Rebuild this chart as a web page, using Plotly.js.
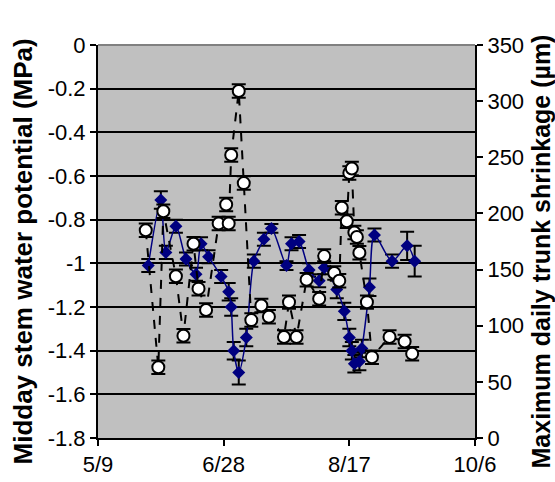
<!DOCTYPE html>
<html>
<head>
<meta charset="utf-8">
<script src="https://cdn.plot.ly/plotly-3.0.1.min.js"></script>
<style>html,body{margin:0;padding:0;background:#fff;}#chart{width:555px;height:482px;}</style>
</head>
<body>
<div id="chart"></div>
<script>
// Midday stem water potential (left axis, MPa) - blue diamonds
var swpDates = ["2005-05-29","2005-06-03","2005-06-05","2005-06-09","2005-06-13","2005-06-17","2005-06-19","2005-06-22","2005-06-27","2005-06-30","2005-07-01","2005-07-02","2005-07-04","2005-07-07","2005-07-10","2005-07-14","2005-07-17","2005-07-23","2005-07-25","2005-07-28","2005-08-01","2005-08-05","2005-08-07","2005-08-12","2005-08-15","2005-08-17","2005-08-18","2005-08-19","2005-08-21","2005-08-22","2005-08-25","2005-08-27","2005-09-03","2005-09-09","2005-09-12"];
var swpValues = [-1.01,-0.71,-0.95,-0.83,-0.98,-1.05,-0.91,-0.97,-1.06,-1.13,-1.20,-1.40,-1.50,-1.34,-0.99,-0.89,-0.84,-1.01,-0.91,-0.90,-1.03,-1.08,-1.02,-1.12,-1.22,-1.34,-1.40,-1.46,-1.45,-1.39,-1.11,-0.87,-0.99,-0.92,-0.99];
var swpErrors = [0.03,0.04,0.03,0.03,0.03,0.03,0.03,0.03,0.03,0.04,0.04,0.04,0.055,0.04,0.03,0.03,0.02,0.02,0.03,0.03,0.03,0.03,0.03,0.04,0.04,0.04,0.04,0.04,0.04,0.04,0.04,0.03,0.03,0.065,0.07];

// Maximum daily trunk shrinkage (right axis, µm) - white circles
var mdsDates = ["2005-05-28","2005-06-02","2005-06-04","2005-06-09","2005-06-12","2005-06-16","2005-06-18","2005-06-21","2005-06-26","2005-06-29","2005-06-30","2005-07-01","2005-07-04","2005-07-06","2005-07-09","2005-07-13","2005-07-16","2005-07-22","2005-07-24","2005-07-27","2005-07-31","2005-08-05","2005-08-07","2005-08-11","2005-08-13","2005-08-14","2005-08-16","2005-08-17","2005-08-18","2005-08-19","2005-08-20","2005-08-21","2005-08-24","2005-08-26","2005-09-02","2005-09-08","2005-09-11"];
var mdsValues = [185,63,202,144,91,173,133,114,191,208,191,252,309,227,105,118,108,90,121,90,141,124,162,147,140,205,193,236,240,183,179,165,121,72,90,86,75];
var mdsErrors = [6,6,6,6,6,6,6,6,6,6,6,6,6,6,6,6,6,6,6,6,6,6,6,6,6,6,6,6,6,6,6,6,6,6,6,6,6];

var xTickVals = ["2005-05-09","2005-06-28","2005-08-17","2005-10-06"];
var xTickText = ["5/9","6/28","8/17","10/6"];
var yTickVals = [0,-0.2,-0.4,-0.6,-0.8,-1,-1.2,-1.4,-1.6,-1.8];
var yTickText = ["0","-0.2","-0.4","-0.6","-0.8","-1","-1.2","-1.4","-1.6","-1.8"];
var y2TickVals = [0,50,100,150,200,250,300,350];
var y2TickText = ["0","50","100","150","200","250","300","350"];
var leftTitle = "Midday stem water potential (MPa)";
var rightTitle = "Maximum daily trunk shrinkage (µm)";

var tickFont = {family: "'Liberation Sans Narrow', 'Liberation Sans', Arial, sans-serif", size: 22, color: "#000"};
var leftTitleFont = {family: "'Liberation Sans', Arial, sans-serif", size: 26, color: "#000", weight: "bold"};
var rightTitleFont = {family: "'Liberation Sans', Arial, sans-serif", size: 25, color: "#000", weight: "bold"};

var traces = [
  {
    x: swpDates, y: swpValues, type: "scatter", mode: "lines+markers",
    name: "Stem water potential",
    line: {color: "#000080", width: 1.5, shape: "spline", smoothing: 0.8},
    marker: {symbol: "diamond", size: 10, color: "#000080"},
    error_y: {type: "data", array: swpErrors, visible: true, color: "#000", thickness: 2, width: 7},
    yaxis: "y", cliponaxis: false
  },
  {
    x: mdsDates, y: mdsValues, type: "scatter", mode: "lines+markers",
    name: "MDS",
    line: {color: "#000", width: 2, dash: "dash"},
    marker: {symbol: "circle", size: 12, color: "#fff", line: {color: "#000", width: 2}},
    error_y: {type: "data", array: mdsErrors, visible: true, color: "#000", thickness: 2, width: 7},
    yaxis: "y2", cliponaxis: false
  }
];

var layout = {
  width: 555, height: 482,
  margin: {l: 98, r: 80, t: 45, b: 44, pad: 0},
  paper_bgcolor: "#fff", plot_bgcolor: "#c0c0c0",
  showlegend: false,
  xaxis: {
    type: "date", range: ["2005-05-09","2005-10-06"],
    tickvals: xTickVals, ticktext: xTickText,
    ticks: "outside", ticklen: 6, tickwidth: 2, tickcolor: "#000",
    showline: true, linecolor: "#000", linewidth: 2,
    showgrid: false, zeroline: false,
    tickfont: tickFont
  },
  yaxis: {
    range: [-1.8, 0], tickvals: yTickVals, ticktext: yTickText,
    ticks: "outside", ticklen: 6, tickwidth: 2, tickcolor: "#000",
    showline: true, linecolor: "#000", linewidth: 2,
    showgrid: true, gridcolor: "#000", gridwidth: 2, zeroline: false,
    tickfont: tickFont
  },
  yaxis2: {
    range: [0, 350], tickvals: y2TickVals, ticktext: y2TickText,
    overlaying: "y", side: "right",
    ticks: "outside", ticklen: 6, tickwidth: 2, tickcolor: "#000",
    showline: true, linecolor: "#000", linewidth: 2,
    showgrid: false, zeroline: false,
    tickfont: tickFont
  },
  annotations: [
    {text: "<b>" + leftTitle + "</b>", xref: "paper", yref: "paper", x: 0, y: 0.5, xshift: -76, yshift: -10,
     xanchor: "center", yanchor: "middle", textangle: -90, showarrow: false, font: leftTitleFont},
    {text: "<b>" + rightTitle + "</b>", xref: "paper", yref: "paper", x: 1, y: 0.5, xshift: 65, yshift: -10,
     xanchor: "center", yanchor: "middle", textangle: -90, showarrow: false, font: rightTitleFont}
  ],
  shapes: [
    {type: "line", xref: "paper", yref: "paper", x0: 0, x1: 1, y0: 1, y1: 1, line: {color: "#808080", width: 2}}
  ]
};

Plotly.newPlot("chart", traces, layout, {staticPlot: true, displayModeBar: false});
</script>
</body>
</html>
